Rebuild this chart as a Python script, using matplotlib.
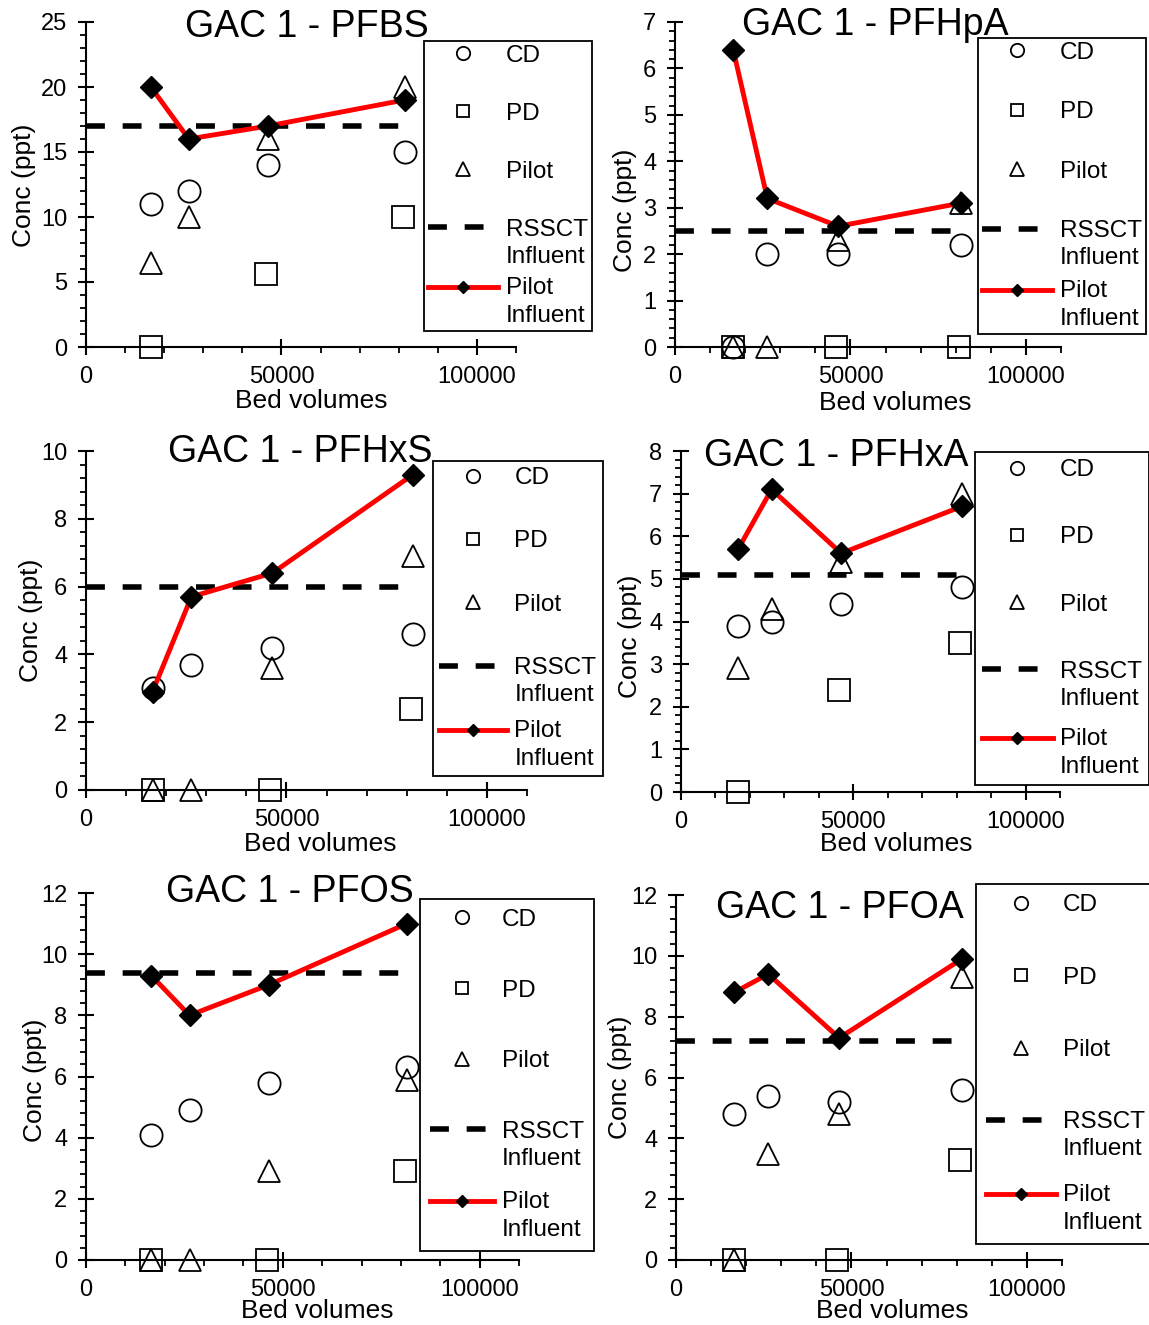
import numpy as np
import matplotlib
matplotlib.use("Agg")
import matplotlib.pyplot as plt
from matplotlib.legend_handler import HandlerLine2D
from matplotlib.lines import Line2D
from matplotlib.ticker import MultipleLocator, FixedLocator

plt.rcParams['font.family'] = ['Liberation Sans', 'DejaVu Sans']

# ---------------- data ----------------
compounds = ["PFBS", "PFHpA", "PFHxS", "PFHxA", "PFOS", "PFOA"]
bed_volumes = [16600, 26300, 46500, 81500]
bed_volumes_pd = [16600, 46000, 81000]
rssct_bv = [0, 80000]

cd_pfbs = [11, 12, 14, 15]
pd_pfbs = [0, 5.6, 10]
pilot_pfbs = [6.5, 10, 16, 20]
inf_pfbs = [20, 16, 17, 19]
rssct_pfbs = 17

cd_pfhpa = [0, 2.0, 2.0, 2.2]
pd_pfhpa = [0, 0, 0]
pilot_pfhpa = [0, 0, 2.3, 3.1]
inf_pfhpa = [6.4, 3.2, 2.6, 3.1]
rssct_pfhpa = 2.5

cd_pfhxs = [3.0, 3.7, 4.2, 4.6]
pd_pfhxs = [0, 0, 2.4]
pilot_pfhxs = [0, 0, 3.6, 6.9]
inf_pfhxs = [2.9, 5.7, 6.4, 9.3]
rssct_pfhxs = 6.0

cd_pfhxa = [3.9, 4.0, 4.4, 4.8]
pd_pfhxa = [0, 2.4, 3.5]
pilot_pfhxa = [2.9, 4.3, 5.4, 7.0]
inf_pfhxa = [5.7, 7.1, 5.6, 6.7]
rssct_pfhxa = 5.1

cd_pfos = [4.1, 4.9, 5.8, 6.3]
pd_pfos = [0, 0, 2.9]
pilot_pfos = [0, 0, 2.9, 5.9]
inf_pfos = [9.3, 8.0, 9.0, 11.0]
rssct_pfos = 9.4

cd_pfoa = [4.8, 5.4, 5.2, 5.6]
pd_pfoa = [0, 0, 3.3]
pilot_pfoa = [0, 3.5, 4.8, 9.3]
inf_pfoa = [8.8, 9.4, 7.3, 9.9]
rssct_pfoa = 7.2

y_max = [25, 7, 10, 8, 12, 12]
y_major = [5, 1, 2, 1, 2, 2]
y_minor = [1, 0.2, 0.4, 0.2, 0.4, 0.4]

x_major_ticks = [0, 50000, 100000]
x_major_labels = ["0", "50000", "100000"]
x_minor_ticks = [10000, 20000, 30000, 40000, 60000, 70000, 80000, 90000, 110000]

series = [
    (cd_pfbs, pd_pfbs, pilot_pfbs, inf_pfbs, rssct_pfbs),
    (cd_pfhpa, pd_pfhpa, pilot_pfhpa, inf_pfhpa, rssct_pfhpa),
    (cd_pfhxs, pd_pfhxs, pilot_pfhxs, inf_pfhxs, rssct_pfhxs),
    (cd_pfhxa, pd_pfhxa, pilot_pfhxa, inf_pfhxa, rssct_pfhxa),
    (cd_pfos, pd_pfos, pilot_pfos, inf_pfos, rssct_pfos),
    (cd_pfoa, pd_pfoa, pilot_pfoa, inf_pfoa, rssct_pfoa),
]

# ---------------- layout (pixels) ----------------
W, H = 1149, 1325
# x0 (x=0), x1 (x=110000), top (y=max), bottom (y=0)
axes_px = [(86, 516, 22, 347), (675, 1061, 22, 347),
           (86, 527, 451, 790), (681, 1060, 451, 792),
           (86, 519, 893, 1260), (676, 1062, 895, 1260)]
legend_px = [(424, 41), (978, 38), (433, 461), (975, 452), (420, 899), (976, 884)]
legend_spacing = [1.48, 1.54, 1.70, 1.86, 2.00, 2.07]
legend_pad = [0.16, 0.16, 0.25, 0.29, 0.41, 0.43]
legend_hlen = [2.9, 2.9, 2.8, 2.9, 2.65, 2.85]
title_px = [(307, 37), (875, 35), (300, 462), (836, 466), (290, 902), (840, 918)]
xlabel_px = [(311, 401), (895, 403), (320, 844), (896, 844), (317, 1311), (892, 1311)]
ylabel_px = [(24, 185), (625, 210), (31, 620), (630, 636), (35, 1080), (620, 1077)]

FS_TICK = 17
FS_LAB = 19
FS_TITLE = 27
FS_LEG = 17.5


class ShiftedHandler(HandlerLine2D):
    def __init__(self, dy, **kw):
        super().__init__(**kw)
        self.dy = dy

    def create_artists(self, legend, orig_handle, xdescent, ydescent,
                       width, height, fontsize, trans):
        arts = super().create_artists(legend, orig_handle, xdescent, ydescent,
                                      width, height, fontsize, trans)
        for a in arts:
            if isinstance(a, Line2D):
                a.set_ydata(np.asarray(a.get_ydata(), dtype=float) + self.dy * fontsize)
        return arts


fig = plt.figure(figsize=(W / 100, H / 100), dpi=100)
fig.patch.set_facecolor("white")

mk = dict(linestyle="none", mfc="none", mec="black", mew=1.3, clip_on=False)

for i, (cd, pdv, pil, inf, rs) in enumerate(series):
    x0, x1, top, bot = axes_px[i]
    ax = fig.add_axes([x0 / W, 1 - bot / H, (x1 - x0) / W, (bot - top) / H])
    ax.patch.set_alpha(0)

    h_cd, = ax.plot(bed_volumes, cd, marker="o", ms=16, label="CD", zorder=3, **mk)
    h_pd, = ax.plot(bed_volumes_pd, pdv, marker="s", ms=15.5, label="PD", zorder=3, **mk)
    h_pil, = ax.plot(bed_volumes, pil, marker="^", ms=16, label="Pilot", zorder=3, **mk)
    h_rs, = ax.plot(rssct_bv, [rs, rs], color="black", lw=4, dashes=(3.4, 3.2),
                    label="RSSCT", zorder=4)
    h_inf, = ax.plot(bed_volumes, inf, color="#ff0000", lw=3.5, marker="D", ms=11,
                     mfc="black", mec="black", label="Pilot\nInfluent", zorder=5,
                     clip_on=False)

    ax.set_xlim(0, 110000)
    ax.set_ylim(0, y_max[i])
    for s in ("top", "right"):
        ax.spines[s].set_visible(False)
    for s in ("left", "bottom"):
        ax.spines[s].set_linewidth(1.5)

    ax.xaxis.set_major_locator(FixedLocator(x_major_ticks))
    ax.set_xticklabels(x_major_labels)
    ax.xaxis.set_minor_locator(FixedLocator(x_minor_ticks))
    ax.yaxis.set_major_locator(MultipleLocator(y_major[i]))
    ax.yaxis.set_minor_locator(MultipleLocator(y_minor[i]))

    ax.tick_params(axis="both", which="major", direction="inout", length=11,
                   width=1.5, labelsize=FS_TICK, pad=8)
    ax.tick_params(axis="both", which="minor", direction="out", length=4, width=1.3)

    lx, ly = legend_px[i]
    leg = ax.legend(handles=[h_cd, h_pd, h_pil, h_rs, h_inf],
                    loc="upper left", bbox_to_anchor=(lx / W, 1 - ly / H),
                    bbox_transform=fig.transFigure, borderaxespad=0,
                    fontsize=FS_LEG, frameon=True, fancybox=False, framealpha=1,
                    edgecolor="black", labelspacing=legend_spacing[i],
                    handlelength=legend_hlen[i], handletextpad=0.3,
                    borderpad=legend_pad[i], numpoints=1, markerscale=0.6,
                    handler_map={h_inf: ShiftedHandler(0.62)})
    leg.get_frame().set_linewidth(1.3)
    leg.set_zorder(10)
    for t in leg.get_texts():
        t.set_linespacing(1.35)
    rs_text = leg.get_texts()[3]
    ax.annotate("Influent", xy=(0, 0), xycoords=rs_text, xytext=(0, -5),
                textcoords="offset pixels", ha="left", va="top",
                fontsize=FS_LEG, zorder=11, annotation_clip=False)

    tx, ty = title_px[i]
    fig.text(tx / W, 1 - ty / H, "GAC 1 - " + compounds[i], ha="center",
             va="baseline", fontsize=FS_TITLE)
    xx, xy = xlabel_px[i]
    fig.text(xx / W, 1 - xy / H, "Bed volumes", ha="center", va="center",
             fontsize=FS_LAB)
    yx, yy = ylabel_px[i]
    fig.text(yx / W, 1 - yy / H, "Conc (ppt)", ha="center", va="center",
             rotation=90, fontsize=FS_LAB)

fig.savefig("out.png", dpi=100, facecolor="white")
